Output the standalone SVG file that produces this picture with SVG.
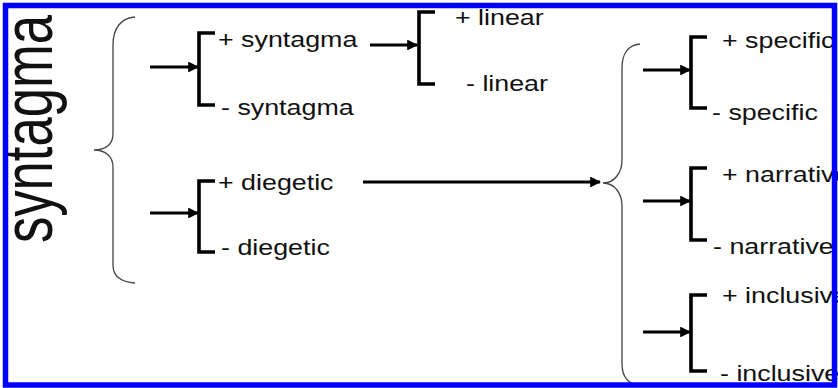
<svg xmlns="http://www.w3.org/2000/svg" width="838" height="388" viewBox="0 0 838 388">
  <defs>
    <style>
      .lbl { font-family: "Liberation Sans", Arial, sans-serif; font-size: 22px; fill: #111; }
      .title { font-family: "Liberation Sans", Arial, sans-serif; font-size: 52.6px; fill: #111; }
      .brace { fill: none; stroke: #444; stroke-width: 1.3; }
      .bracket { fill: none; stroke: #000; stroke-width: 3.6; stroke-linejoin: miter; stroke-linecap: butt; }
      .arrow { fill: none; stroke: #000; stroke-width: 3.2; marker-end: url(#head); }
    </style>
    <marker id="head" viewBox="0 0 10 10" refX="9" refY="5" markerWidth="3.6" markerHeight="3.4" orient="auto" markerUnits="strokeWidth">
      <path d="M0,0 L10,5 L0,10 Z" fill="#000"/>
    </marker>
  </defs>

  <rect width="838" height="388" fill="#fff"/>

  <!-- vertical title -->
  <g id="title">
    <text class="title" transform="translate(52,243) rotate(-90) scale(1,1.33)">syntagma</text>
  </g>

  <!-- braces -->
  <g id="brace-main">
    <path class="brace" d="M135,17 C121,18 113,28 113,45 L113,134 C113,144 106,150 94,150 C106,150 113,157 113,167 L113,265 C113,276 121,282 135,283"/>
  </g>
  <g id="brace-diegetic">
    <path class="brace" d="M640,44 C628,45 622,54 622,68 L622,160 C622,172 615,183 603,183 C615,183 622,194 622,206 L622,364 C622,376 628,384 640,386"/>
  </g>

  <!-- connectors -->
  <g id="connectors">
    <line class="arrow" x1="150" y1="67" x2="198" y2="67"/>
    <line class="arrow" x1="370" y1="45" x2="417" y2="45"/>
    <line class="arrow" x1="150" y1="213" x2="198" y2="213"/>
    <line class="arrow" x1="363" y1="182" x2="600" y2="182"/>
    <line class="arrow" x1="643" y1="70" x2="690" y2="70"/>
    <line class="arrow" x1="643" y1="201" x2="690" y2="201"/>
    <line class="arrow" x1="643" y1="332" x2="690" y2="332"/>
  </g>

  <g id="syntagma">
    <path class="bracket" d="M215,33 H199 V105 H215"/>
    <text class="lbl" transform="translate(218,47) scale(1.22,1)">+ syntagma</text>
    <text class="lbl" transform="translate(221,115) scale(1.22,1)">- syntagma</text>
  </g>

  <g id="linear">
    <path class="bracket" d="M435,12 H419 V84 H435"/>
    <text class="lbl" transform="translate(455,25) scale(1.22,1)">+ linear</text>
    <text class="lbl" transform="translate(466,91) scale(1.22,1)">- linear</text>
  </g>

  <g id="diegetic">
    <path class="bracket" d="M215,181 H199 V252 H215"/>
    <text class="lbl" transform="translate(218,190) scale(1.22,1)">+ diegetic</text>
    <text class="lbl" transform="translate(221,255) scale(1.22,1)">- diegetic</text>
  </g>

  <g id="specific">
    <path class="bracket" d="M707,37 H691 V108 H707"/>
    <text class="lbl" transform="translate(722,48) scale(1.22,1)">+ specific</text>
    <text class="lbl" transform="translate(712,120) scale(1.22,1)">- specific</text>
  </g>

  <g id="narrative">
    <path class="bracket" d="M707,168 H691 V240 H707"/>
    <text class="lbl" transform="translate(722,182) scale(1.22,1)">+ narrative</text>
    <text class="lbl" transform="translate(713,254) scale(1.22,1)">- narrative</text>
  </g>

  <g id="inclusive">
    <path class="bracket" d="M707,295 H691 V371 H707"/>
    <text class="lbl" transform="translate(722,303) scale(1.22,1)">+ inclusive</text>
    <text class="lbl" transform="translate(720,381) scale(1.22,1)">- inclusive</text>
  </g>

  <!-- frame -->
  <rect x="5.5" y="5.5" width="829" height="379.5" fill="none" stroke="#0000ff" stroke-width="5.5"/>
</svg>
